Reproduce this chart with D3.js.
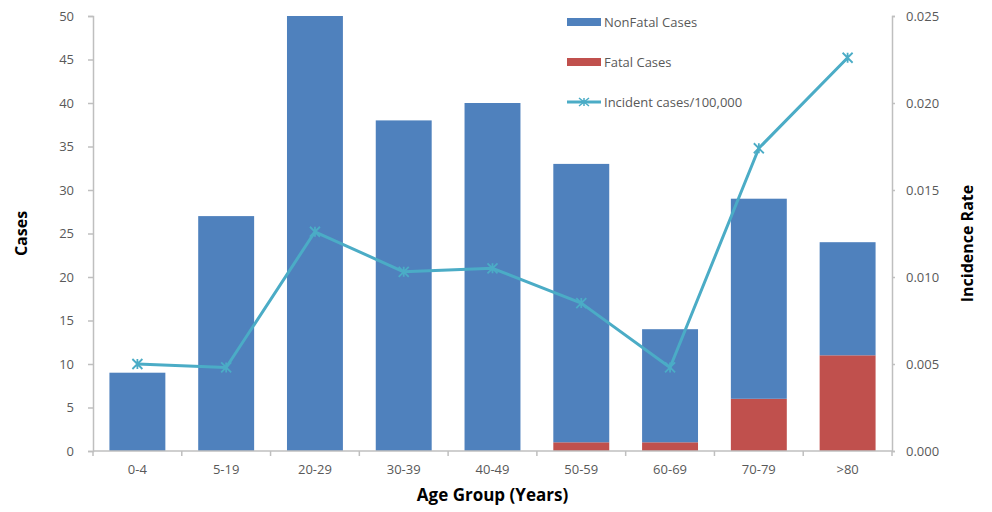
<!DOCTYPE html>
<html>
<head>
<meta charset="utf-8">
<script src="https://cdn.jsdelivr.net/npm/d3@7"></script>
<style>
  html, body { margin: 0; padding: 0; background: #fff; }
  svg { display: block; }
  text { font-family: "Open Sans", "Liberation Sans", sans-serif; }
</style>
</head>
<body>
<svg id="chart" width="992" height="512"></svg>
<script>
// Age groups and case counts
const ageGroups = ["0-4", "5-19", "20-29", "30-39", "40-49", "50-59", "60-69", "70-79", ">80"];
const nonFatalCases = [9, 27, 50, 38, 40, 32, 13, 23, 13];
const fatalCases = [0, 0, 0, 0, 0, 1, 1, 6, 11];
const incidenceRate = [0.0050, 0.0048, 0.0126, 0.0103, 0.0105, 0.0085, 0.0048, 0.0174, 0.0226];

const casesTicks = [0, 5, 10, 15, 20, 25, 30, 35, 40, 45, 50];
const rateTicks = [0, 0.005, 0.010, 0.015, 0.020, 0.025];

const colors = { nonFatal: "#4F81BD", fatal: "#C0504D", rate: "#4BACC6", axis: "#BFBFBF", label: "#595959" };

const svg = d3.select("#chart");
const margin = { left: 93, right: 100, top: 16, bottom: 61 };
const W = 992, H = 512;
const plotW = W - margin.left - margin.right;
const plotH = H - margin.top - margin.bottom;

const g = svg.append("g").attr("transform", `translate(${margin.left},${margin.top})`);

const x = d3.scaleBand().domain(ageGroups).range([0, plotW]).paddingInner(0.37).paddingOuter(0.185);
const xBoundary = d3.scaleLinear().domain([0, ageGroups.length]).range([0, plotW]);
const yCases = d3.scaleLinear().domain([0, 50]).range([plotH, 0]);
const yRate = d3.scaleLinear().domain([0, 0.025]).range([plotH, 0]);

// Stacked bars: fatal at the bottom, non-fatal above
const rows = ageGroups.map((a, i) => ({ age: a, fatal: fatalCases[i], nonFatal: nonFatalCases[i] }));
const stack = d3.stack().keys(["fatal", "nonFatal"])(rows);
const fillFor = { fatal: colors.fatal, nonFatal: colors.nonFatal };

stack.forEach(layer => {
  g.append("g").selectAll("rect")
    .data(layer)
    .join("rect")
    .attr("x", d => x(d.data.age))
    .attr("width", x.bandwidth())
    .attr("y", d => yCases(d[1]))
    .attr("height", d => yCases(d[0]) - yCases(d[1]))
    .attr("fill", fillFor[layer.key]);
});

// Axes
const leftAxis = d3.axisLeft(yCases).tickValues(casesTicks).tickSize(5).tickPadding(14);
const rightAxis = d3.axisRight(yRate).tickValues(rateTicks).tickFormat(d3.format(".3f")).tickSize(3).tickPadding(11);

function styleAxis(sel) {
  sel.selectAll("path, line").attr("stroke", colors.axis).attr("stroke-width", 1.5);
  sel.selectAll("text").attr("fill", colors.label).attr("font-size", 13);
}

g.append("g").call(leftAxis).call(styleAxis);
g.append("g").attr("transform", `translate(${plotW},0)`).call(rightAxis).call(styleAxis);

// Category axis with ticks at band boundaries
const xAxisG = g.append("g").attr("transform", `translate(0,${plotH})`);
xAxisG.append("line").attr("x1", 0).attr("x2", plotW).attr("y1", 0).attr("y2", 0)
  .attr("stroke", colors.axis).attr("stroke-width", 1.5);
xAxisG.selectAll("line.tick")
  .data(d3.range(ageGroups.length + 1))
  .join("line")
  .attr("class", "tick")
  .attr("x1", d => xBoundary(d)).attr("x2", d => xBoundary(d))
  .attr("y1", 0).attr("y2", 5)
  .attr("stroke", colors.axis).attr("stroke-width", 1.5);
xAxisG.selectAll("text")
  .data(ageGroups)
  .join("text")
  .attr("x", d => x(d) + x.bandwidth() / 2)
  .attr("y", 23)
  .attr("text-anchor", "middle")
  .attr("fill", colors.label)
  .attr("font-size", 13)
  .text(d => d);

// Incidence rate line with star markers
const cx = a => x(a) + x.bandwidth() / 2;
const line = d3.line().x((d, i) => cx(ageGroups[i])).y(d => yRate(d));
g.append("path")
  .datum(incidenceRate)
  .attr("d", line)
  .attr("fill", "none")
  .attr("stroke", colors.rate)
  .attr("stroke-width", 3)
  .attr("stroke-linejoin", "round");

const star = d3.symbol().type(d3.symbolAsterisk || d3.symbolCross).size(60);
g.append("g").selectAll("g")
  .data(incidenceRate)
  .join("g")
  .attr("transform", (d, i) => `translate(${cx(ageGroups[i])},${yRate(d)})`)
  .each(function () {
    const m = d3.select(this);
    m.append("path").attr("d", "M-5,-5L5,5M-5,5L5,-5M0,-5L0,5")
      .attr("stroke", colors.rate).attr("stroke-width", 1.8).attr("fill", "none");
  });

// Axis titles
svg.append("text")
  .attr("transform", `translate(27,${margin.top + plotH / 2}) rotate(-90)`)
  .attr("text-anchor", "middle")
  .attr("font-weight", "bold")
  .attr("font-size", 16)
  .attr("fill", "#000")
  .text("Cases");

svg.append("text")
  .attr("transform", `translate(973,${margin.top + plotH / 2 + 10}) rotate(-90)`)
  .attr("text-anchor", "middle")
  .attr("font-weight", "bold")
  .attr("font-size", 16)
  .attr("fill", "#000")
  .text("Incidence Rate");

svg.append("text")
  .attr("x", margin.left + plotW / 2)
  .attr("y", 501)
  .attr("text-anchor", "middle")
  .attr("font-weight", "bold")
  .attr("font-size", 17)
  .attr("fill", "#000")
  .text("Age Group (Years)");

// Legend
const legendItems = [
  { label: "NonFatal Cases", type: "rect", color: colors.nonFatal },
  { label: "Fatal Cases", type: "rect", color: colors.fatal },
  { label: "Incident cases/100,000", type: "line", color: colors.rate }
];
const legend = svg.append("g").attr("transform", "translate(567,22)");
legendItems.forEach((item, i) => {
  const row = legend.append("g").attr("transform", `translate(0,${i * 40})`);
  if (item.type === "rect") {
    row.append("rect").attr("x", 0).attr("y", -4).attr("width", 34).attr("height", 8).attr("fill", item.color);
  } else {
    row.append("line").attr("x1", 0).attr("x2", 34).attr("y1", 0).attr("y2", 0)
      .attr("stroke", item.color).attr("stroke-width", 3);
    row.append("path").attr("d", "M12,-4L22,4M12,4L22,-4M17,-4L17,4")
      .attr("stroke", item.color).attr("stroke-width", 1.5).attr("fill", "none");
  }
  row.append("text").attr("x", 37).attr("y", 5)
    .attr("font-size", 13).attr("fill", colors.label)
    .text(item.label);
});
</script>
</body>
</html>
